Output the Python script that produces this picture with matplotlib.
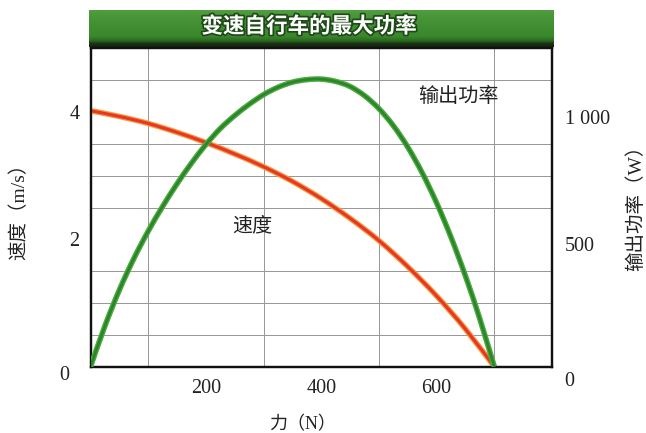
import numpy as np
import matplotlib
matplotlib.use("Agg")
import matplotlib.pyplot as plt
import matplotlib.patheffects as pe
from matplotlib.path import Path
from matplotlib.patches import PathPatch
from matplotlib.transforms import ScaledTranslation

# ---- data ----
force_speed = [0, 50, 100, 150, 200, 250, 300, 350, 400, 450, 500, 550, 600, 650, 700]
speed = [4.02, 3.93, 3.82, 3.68, 3.52, 3.34, 3.14, 2.91, 2.64, 2.33, 1.98, 1.57, 1.11, 0.59, 0.0]

force_power = [0, 25, 50, 75, 100, 125, 150, 175, 200, 225, 250, 275, 300, 325, 350,
               375, 400, 425, 450, 475, 500, 525, 550, 575, 600, 625, 650, 675, 700]
power = [0, 160, 301, 424, 532, 629, 718, 799, 872, 935, 986, 1030, 1068, 1097, 1117,
         1127, 1129, 1120, 1100, 1064, 1013, 946, 862, 761, 643, 508, 356, 187, 0]

x_ticks = [200, 400, 600]
left_ticks = [2, 4]
right_ticks = [500, 1000]
right_tick_labels = ["500", "1 000"]

title = "变速自行车的最大功率"
xlabel = "力（N）"
ylabel_left = "速度（m/s）"
ylabel_right = "输出功率（W）"
label_speed = "速度"
label_power = "输出功率"

CJK = ["Noto Sans CJK SC", "DejaVu Sans"]
SERIF_CJK = ["Liberation Serif", "Noto Sans CJK SC", "DejaVu Sans"]
plt.rcParams["font.family"] = CJK


def smooth_path(xs, ys):
    """Catmull-Rom curve through the data points, drawn as cubic Bezier segments."""
    p = np.column_stack([xs, ys]).astype(float)
    n = len(p)
    verts = [p[0]]
    codes = [Path.MOVETO]
    for i in range(n - 1):
        p0 = p[i - 1] if i > 0 else p[i]
        p1, p2 = p[i], p[i + 1]
        p3 = p[i + 2] if i + 2 < n else p[i + 1]
        c1 = p1 + (p2 - p0) / 6.0
        c2 = p2 - (p3 - p1) / 6.0
        verts += [c1, c2, p2]
        codes += [Path.CURVE4] * 3
    return Path(np.array(verts), codes)


def draw_curve(axis, xs, ys, colors, widths, z):
    path = smooth_path(xs, ys)
    for k, (c, w) in enumerate(zip(colors, widths)):
        axis.add_patch(PathPatch(path, facecolor="none", edgecolor=c, lw=w,
                                 capstyle="butt", joinstyle="round", zorder=z + k))


W, H = 646, 433
fig = plt.figure(figsize=(W / 100, H / 100), dpi=100)
fig.patch.set_facecolor("white")

L, R, T, B = 90.5, 552, 48.3, 366.7
ax = fig.add_axes([L / W, 1 - B / H, (R - L) / W, (B - T) / H])
ax.set_xlim(0, 800)
ax.set_ylim(0, 5)
ax.set_xticks(np.arange(0, 801, 100), minor=True)
ax.set_yticks(np.arange(0, 5.01, 0.5), minor=True)
ax.grid(which="minor", color="#969696", lw=0.7)
ax.set_xticks(x_ticks)
ax.set_yticks(left_ticks)
TICKFONT = dict(fontsize=14.5, family="Liberation Serif", color="#222222")
ax.set_xticklabels([str(v) for v in x_ticks], **TICKFONT)
ax.set_yticklabels([str(v) for v in left_ticks], **TICKFONT)
ax.tick_params(which="both", length=0)
ax.tick_params(axis="x", pad=9)
ax.tick_params(axis="y", pad=8)
for s in ax.spines.values():
    s.set_linewidth(1.6)
    s.set_color("#111111")
ax.set_axisbelow(True)

ax2 = ax.twinx()
ax2.set_ylim(0, 1250)
ax2.set_yticks(right_ticks)
ax2.set_yticklabels(right_tick_labels, **TICKFONT)
ax2.tick_params(length=0, pad=9)
for s in ax2.spines.values():
    s.set_linewidth(1.6)
    s.set_color("#111111")
shift = ScaledTranslation(0, -3.5 / 72, fig.dpi_scale_trans)
for lab in ax2.get_yticklabels():
    lab.set_transform(lab.get_transform() + shift)

# zero labels (sit slightly below the axis in the reference)
ax.text(-0.045, -0.028, "0", transform=ax.transAxes, ha="right", va="center", **TICKFONT)
ax.text(1.026, -0.048, "0", transform=ax.transAxes, ha="left", va="center", **TICKFONT)

# curves (smooth)
draw_curve(ax2, force_power, power, ["#4caa3e", "#2b862b"], [4.0, 2.0], 3)
draw_curve(ax, force_speed, speed, ["#f39a33", "#e8352a"], [4.0, 2.2], 5)

# in-plot labels
ax.text(638, 4.24, label_power, fontsize=14.5, ha="center", va="center", color="#222222")
ax.text(281, 2.21, label_speed, fontsize=14.5, ha="center", va="center", color="#222222")

# axis labels
fig.text(19 / W, 1 - 207 / H, ylabel_left, rotation=90, ha="center", va="center",
         fontsize=14, family=SERIF_CJK, color="#222222")
fig.text(636 / W, 1 - 203 / H, ylabel_right, rotation=90, ha="center", va="center",
         fontsize=14, family=SERIF_CJK, color="#222222")
fig.text(303 / W, 1 - 425 / H, xlabel, ha="center", va="center",
         fontsize=13, family=SERIF_CJK, color="#222222")

# title bar with green gradient
bx0, bx1, by0, by1 = 89, 554, 9.5, 47.5
bar = fig.add_axes([bx0 / W, 1 - by1 / H, (bx1 - bx0) / W, (by1 - by0) / H])
stops = np.array([
    [0.00, 0x52, 0x9e, 0x40],
    [0.25, 0x46, 0x94, 0x36],
    [0.72, 0x3a, 0x88, 0x2c],
    [0.84, 0x2c, 0x6a, 0x22],
    [0.91, 0x1a, 0x35, 0x12],
    [1.00, 0x15, 0x20, 0x10],
])
t = np.linspace(0, 1, 60)
grad = np.stack([np.interp(t, stops[:, 0], stops[:, i]) for i in (1, 2, 3)], axis=-1) / 255.0
img = np.repeat(grad[:, None, :], 2, axis=1)
bar.imshow(img, aspect="auto", extent=[0, 1, 0, 1], interpolation="bilinear")
bar.set_xlim(0, 1)
bar.set_ylim(0, 1)
bar.axis("off")
bar.text(0.473, 0.56, title, ha="center", va="center", fontsize=15.5, fontweight="heavy",
         color="white", family=CJK,
         path_effects=[pe.withStroke(linewidth=2.5, foreground="#1e4a18")])

fig.savefig("out.png", dpi=100)
